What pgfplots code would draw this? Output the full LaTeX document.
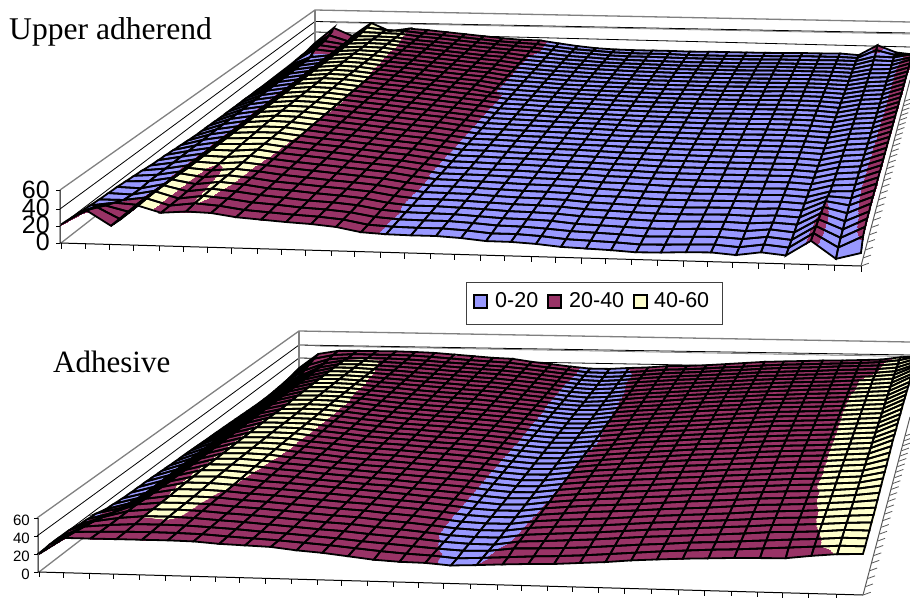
\documentclass[border=0pt]{standalone}
\usepackage{fontspec}
\setmainfont{Liberation Serif}
\setsansfont{Liberation Sans}
\usepackage{pgfplots}
\usepackage{pgfplotstable}
\pgfplotsset{compat=1.18}
\definecolor{cb}{RGB}{153,153,255}
\definecolor{cp}{RGB}{153,51,102}
\definecolor{cy}{RGB}{255,255,204}
\definecolor{gw}{RGB}{128,128,128}
\pgfplotsset{
 page/.style={at={(0pt,0pt)},anchor=south west,scale only axis,width=910pt,height=597pt,xmin=0,xmax=910,ymin=0,ymax=597,y dir=reverse,hide axis},
 sheet/.style={page,view={0}{90},zmin=-1,zmax=1,point meta min=0,point meta max=60,
  colormap={bands}{color(0pt)=(cb) color(19.95pt)=(cb) color(20pt)=(cp) color(39.95pt)=(cp) color(40pt)=(cy) color(60pt)=(cy)},
  colormap={blk}{color(0pt)=(black) color(1pt)=(black)}},
 table/z index=0,
}
\pgfplotstableread[row sep=\\]{z\\
9\\37\\23\\47\\33\\38\\36\\33\\30\\27\\24\\22\\21.5\\17\\13\\10\\8.5\\8\\8\\8\\7.5\\8\\8\\8\\8\\8.5\\9\\9\\9.5\\7.5\\24\\13\\10\\
7\\30\\20\\45\\41\\39.8\\36.5\\34\\31\\28\\25\\23\\21.5\\17.5\\14\\12\\10\\9\\9\\9\\8\\8\\8\\8.5\\9\\9\\10\\10\\10\\9\\22\\15\\16\\
5\\26\\21\\43\\42\\41\\37\\34.5\\31.5\\28.5\\26\\23.5\\21.5\\18\\15\\13\\11\\10\\10\\9.5\\9\\9\\9\\9\\9.5\\10\\10\\10\\10.5\\10\\18\\17\\23\\
5\\25\\21\\42\\42\\41\\37\\34.5\\31.5\\28.5\\26\\23.5\\21.5\\18\\15\\13.5\\11.5\\10.5\\10\\9.5\\9\\9\\9\\9\\9.5\\10\\10\\10\\10.5\\10\\18\\17\\24\\
4\\24\\21\\41.5\\43\\41.5\\37.5\\35\\32\\29\\26\\24\\20.2\\18\\15.5\\14\\12\\11\\10.5\\10\\9.5\\9.5\\9.5\\9.5\\10\\10.5\\10.5\\10.5\\11\\10\\17\\17\\26\\
3\\17\\21\\41.5\\43\\42\\38\\35\\32\\29\\26\\24\\20.2\\18\\16\\14\\13\\12\\11\\10.5\\10\\10\\10\\10\\10.5\\11\\11\\11\\11\\10\\16\\17\\26\\
3\\16\\21\\41.5\\43\\42\\38\\35.5\\32.5\\29.5\\26.5\\24\\20.2\\18\\16\\15\\13.5\\12.5\\11.5\\11\\10.5\\10.5\\10.5\\10.5\\10.5\\11\\11\\11.5\\11\\10\\16\\17\\26\\
3\\16\\21\\41.5\\43.5\\42\\38.2\\35.5\\32.5\\29.5\\26.5\\24\\20.2\\18\\16\\15\\13.5\\12.5\\11.5\\11\\10.5\\10.5\\10.5\\10.5\\10.5\\11\\11.5\\11.5\\11\\10\\15.5\\17\\26\\
3\\16\\21\\41.5\\44\\42\\38.5\\35.5\\32.5\\29.5\\26.5\\24\\20.2\\18.5\\16.5\\15\\14\\13\\12\\11\\11\\10.5\\10.5\\10.5\\11\\11\\11.5\\11.5\\11\\10\\15\\17\\26\\
3\\16\\21\\41.5\\44\\42\\38.7\\36\\33\\30\\27\\24.5\\20.2\\18.5\\16.5\\15\\14\\13\\12\\11.5\\11\\11\\10.5\\10.5\\11\\11\\11.5\\12\\11.5\\10\\15\\17\\26\\
3\\16\\21\\41.5\\44\\42.3\\38.8\\36\\33\\30\\27\\24.5\\20.2\\18.5\\17\\15\\14\\13\\12.5\\11.5\\11\\11\\11\\10.5\\11\\11\\12\\12\\11.5\\10\\15\\17\\26\\
3.5\\16\\21\\41.5\\44\\42.5\\39\\36\\33\\30\\27\\24.5\\20.2\\18.5\\17\\15.5\\14\\13.5\\12.5\\12\\11\\11\\11\\11\\11\\11\\12\\12\\11.5\\10\\15\\17\\26\\
3.5\\16\\21\\41.5\\44\\42.5\\39.3\\36.5\\33.5\\30.5\\27.5\\25\\20.2\\18.5\\17\\15.5\\14.5\\13.5\\13\\12\\11.5\\11\\11\\11\\11\\11.5\\12\\12\\11.5\\10\\15\\17\\26\\
4\\16\\21\\41.5\\44\\43\\39.5\\36.5\\33.5\\30.5\\27.5\\25\\20.2\\18.5\\17\\16\\14.5\\14\\13\\12\\11.5\\11.5\\11\\11\\11.5\\11.5\\12\\12\\11.5\\9.5\\15\\17\\26\\
4\\16\\21\\41.5\\44\\43\\39.7\\36.5\\34\\31\\28\\25\\22\\18.5\\17.5\\16\\15\\14\\13\\12.5\\12\\11.5\\11\\11\\11.5\\11.5\\12\\12\\11.5\\9.5\\15\\17\\26\\
4.2\\16\\21\\41.5\\44\\43\\39.7\\36.5\\34\\31\\28\\25\\22\\18.5\\17.5\\16\\15\\14\\13.2\\12.5\\12\\11.5\\11.2\\11\\11.5\\11.5\\12\\12\\11.5\\9.5\\15\\17\\26\\
4.5\\16\\21\\41.5\\44\\43\\39.8\\36.5\\34\\31\\28\\25\\22\\18.5\\17.5\\16\\15\\14\\13.5\\12.5\\12\\11.5\\11.5\\11\\11.5\\11.5\\12\\12\\11.5\\9.5\\15\\17\\26\\
4.5\\16\\21\\41.5\\44\\43\\39.9\\37\\34\\31\\28\\25\\22\\18.5\\17.5\\16.5\\15\\14.5\\13.5\\13\\12\\12\\11.5\\11\\11.5\\11.5\\12\\12\\11\\9.5\\15\\17\\26\\
5\\16\\21\\41.5\\44\\43\\40\\37\\34\\31\\28\\25\\22\\18.5\\17.5\\16.5\\15.5\\14.5\\14\\13\\12\\12\\11.5\\11\\11\\11.5\\11.5\\11.5\\11\\9.5\\15\\17\\26\\
5.5\\16\\21\\41.5\\44\\43\\40.2\\37\\34\\31\\28\\25.5\\22\\18.5\\17.5\\16.5\\15.5\\15\\14\\13\\12\\12\\11.5\\11\\11\\11\\11.5\\11.5\\11\\9.5\\15\\17\\26\\
5.7\\16\\21\\41.5\\44\\43\\40.2\\37\\34\\31\\28\\25.5\\22\\18.5\\17.5\\16.5\\15.7\\15\\14\\13\\12.2\\12\\11.5\\11\\11\\11\\11.2\\11.2\\11\\9.5\\15\\17\\26\\
6\\16\\21\\41.5\\44\\43\\40.1\\37\\34\\31\\28\\25.5\\22\\18.5\\17.5\\16.5\\16\\15\\14\\13\\12.5\\12\\11.5\\11\\11\\11\\11\\11\\11\\9.5\\15\\17\\26\\
7\\16\\21\\41.5\\44\\43\\40\\37\\34\\31\\28\\25.5\\22\\18.5\\18\\17\\16\\15\\14\\13.5\\12.5\\12\\11.5\\11\\11\\11\\11\\11\\11\\9.5\\15\\17\\26\\
8\\16\\21\\41.5\\44\\43\\39.9\\37\\34\\31\\28\\25.5\\22\\18.5\\18\\17\\16\\15\\14.5\\13.5\\12.5\\12\\11.5\\11\\10.5\\10.5\\10.5\\11\\10.5\\9\\15\\17\\26\\
9\\16\\21\\41.5\\43.5\\43\\39.7\\36.5\\34\\31\\28\\25.5\\22\\18.5\\18\\17\\16\\15.5\\14.5\\13.5\\12.5\\12\\11\\11\\10.5\\10.5\\10.5\\10.5\\10.5\\9\\15\\17\\26\\
10\\16\\21\\41.5\\43\\43\\39.5\\36.5\\34\\31\\28\\25.5\\22\\18.5\\18\\17\\16.5\\15.5\\14.5\\13.5\\12.5\\12\\11\\10.5\\10.5\\10.5\\10.5\\10.5\\10.5\\9\\15\\17\\26\\
10.7\\16\\21\\41.5\\42.5\\43\\39.4\\36.5\\34\\31\\28\\25.5\\22\\18.5\\18\\17\\16.5\\15.5\\14.5\\13.7\\12.5\\12\\11\\10.5\\10.3\\10.3\\10.3\\10.5\\10.5\\9\\15\\17\\26\\
11.5\\16\\21\\41.5\\42\\43\\39.3\\36.5\\34\\31\\28\\25.5\\22\\18.5\\18\\17\\16.5\\15.5\\14.5\\14\\12.5\\12\\11\\10.5\\10\\10\\10\\10.5\\10.5\\9\\15\\17\\26\\
13\\16\\21\\41.5\\41\\43\\39.2\\36.5\\34\\31\\28.5\\26\\22\\18.5\\18\\17.5\\16.5\\15.5\\15\\14\\12.5\\12\\11\\10\\10\\10\\10\\10\\10.5\\9\\15.5\\17\\26\\
14\\16\\21\\41.5\\40.5\\42.5\\39.1\\36\\33.5\\31\\28.5\\26\\22\\19\\18.5\\17.5\\16.5\\15.5\\15\\14\\12.5\\11.5\\10.5\\10\\9.5\\10\\10\\10\\10.5\\9\\16\\17\\26\\
15\\16\\21\\41.5\\40\\42\\39\\36\\33.5\\31\\28.5\\26\\22\\19\\18.5\\17.5\\16.5\\15.5\\15\\14\\12\\11.5\\10.5\\9.5\\9.5\\9.5\\10\\10\\10.5\\9\\18\\16.5\\26\\
16\\15\\21\\41.5\\39\\41.5\\39\\35.5\\33\\30.5\\28.5\\26\\22\\19\\18.5\\18\\16.5\\15.5\\15\\14\\12\\11\\10\\9.5\\9\\9.5\\10\\9.5\\10.5\\9\\20\\16\\26\\
16.5\\15.5\\21\\42.5\\38.5\\41.4\\38.9\\35.2\\33\\30.5\\28.5\\26\\21.7\\19\\18.8\\18\\16.7\\15.5\\15\\14\\12\\11\\10\\9.2\\9\\9.5\\10\\9.2\\10.5\\9\\21\\15\\26\\
17\\17\\21\\43\\38\\41.3\\38.8\\35\\33\\30.5\\28.5\\26\\21.5\\19\\19\\18\\17\\15.5\\15\\14\\12\\11\\10\\9\\9\\9.5\\10\\9\\10.5\\9\\22\\14\\25\\
18\\22\\20\\44\\37.5\\41\\38.5\\35\\32.5\\30\\28.5\\26\\21.5\\19.5\\19\\18.5\\17\\15.5\\15\\14\\11.5\\10.5\\9.5\\8.5\\8.5\\9.5\\10\\8.5\\11\\8.5\\23\\13\\25\\
19\\27\\20\\45\\37\\40.7\\38.2\\34.5\\32.5\\30\\28.5\\26\\21.5\\19.5\\19\\19\\17.5\\15.5\\15\\13.5\\11.5\\10.5\\9.5\\8\\8.5\\9\\9.5\\8\\11\\8.5\\23.5\\12\\24\\
20\\34\\20\\45\\37\\40.2\\38\\34\\32\\30\\28.5\\26\\21\\19.5\\19\\19\\17.5\\15\\15\\13.5\\11\\10\\9\\7.5\\8\\9\\9.5\\7.5\\11\\8.5\\24\\10\\22\\
21\\38\\21\\45\\37\\39\\38\\34\\32\\30\\28.5\\26\\21\\19.5\\19\\19\\17.5\\15\\14.8\\13.4\\11\\10\\9\\7.5\\8\\9\\9.5\\7.5\\11\\8.5\\24\\6.5\\13\\
}\zA
\pgfplotstableread[row sep=\\]{z\\
12\\34\\39\\39.5\\39.5\\39.5\\39\\38\\36\\34\\32\\31\\27\\24\\21\\18.5\\18.5\\20.3\\21.5\\24\\24.5\\26\\28\\30\\32\\33\\34\\35\\35.5\\36.5\\37.5\\41\\43\\
10\\32\\38\\39.8\\39.6\\39.5\\39\\37.5\\35.5\\33.5\\32\\30.5\\27.5\\24.5\\21.5\\18.5\\18\\19.5\\21.5\\24\\25\\26.5\\28.5\\30\\32\\33.5\\34.5\\35.5\\36.5\\37.5\\39\\42\\48\\
8\\28\\37\\39.5\\39.6\\39.5\\38.5\\37\\35\\33.5\\31.5\\30\\27.5\\24.5\\21.5\\18.5\\17.5\\19\\21.5\\24\\25.5\\27\\29\\30.5\\32.5\\34\\35\\36\\37.5\\38.5\\39.5\\42\\50\\
7\\25\\36\\40.8\\40.8\\39.7\\38.5\\37\\35\\33.2\\31.5\\30\\27.5\\24.5\\21.5\\18.2\\17.2\\18.9\\21.7\\24\\25.7\\27.2\\29\\30.7\\32.7\\34\\35.2\\36.2\\37.7\\38.7\\39.7\\42.2\\51\\
6\\22\\35.5\\41\\41\\39.8\\38.5\\37\\35\\33\\31.5\\30\\27.5\\24.5\\21.5\\18\\17\\18.8\\21.8\\24\\26\\27.5\\29\\31\\33\\34\\35.5\\36.5\\38\\39\\40\\42.5\\52\\
5\\21\\35\\41.5\\41.5\\40\\38.5\\36.5\\34.5\\33\\31\\29.5\\27\\24.5\\21.5\\18\\16.5\\18.2\\21.5\\24\\26\\27.5\\29.5\\31\\33\\34.5\\35.5\\37\\38\\39.3\\40.5\\43\\54\\
4.5\\20.5\\34.5\\41.5\\41.7\\40.3\\38.5\\36.5\\34.5\\33\\31\\29.5\\27\\24\\21.5\\18\\16.5\\17.8\\21\\23.5\\25.5\\27.5\\29.5\\31\\33\\34.5\\36\\37\\38\\39.6\\41\\43\\55\\
4.5\\20.5\\34.5\\41.5\\41.8\\40.4\\38.5\\36.5\\34.5\\32.7\\30.7\\29.2\\27\\24\\21.5\\18\\16.2\\17.7\\20.9\\23.5\\25.5\\27.5\\29.5\\31.2\\33\\34.5\\36\\37.2\\38.2\\39.6\\41\\43\\55\\
4.5\\20.5\\34.5\\41.5\\42\\40.5\\38.5\\36.5\\34.5\\32.5\\30.5\\29\\27\\24\\21.5\\18\\16\\17.5\\20.8\\23.5\\25.5\\27.5\\29.5\\31.5\\33\\34.5\\36\\37.5\\38.5\\39.6\\41\\43\\56\\
5\\20.5\\34.5\\41.5\\42\\41\\38.5\\36.5\\34\\32\\30.5\\29\\26.5\\24\\21.5\\18\\16.5\\17.5\\20.6\\23\\25\\27.5\\29.5\\31.5\\33\\35\\36\\37.5\\38.5\\39.7\\41.5\\43\\55\\
5.5\\20.5\\34.5\\41.5\\42\\41\\38.5\\36.2\\34\\32\\30.2\\28.7\\26.5\\24\\21.5\\18.2\\16.5\\17.2\\20.5\\23\\25\\27.2\\29.5\\31.5\\33\\35\\36.2\\37.5\\38.5\\39.7\\41.5\\43\\55\\
6\\20.5\\34.5\\41.5\\42\\41\\38.6\\36\\34\\32\\30\\28.5\\26.5\\24\\21.5\\18.5\\16.5\\17\\20.5\\23\\25\\27\\29.5\\31.5\\33\\35\\36.5\\37.5\\38.5\\39.8\\41.5\\43\\55\\
6.5\\20.5\\34.5\\41.5\\42\\41.2\\38.8\\36\\33.5\\31.5\\30\\28\\26\\24\\21.5\\18.5\\16.5\\17\\20.3\\23\\25\\27\\29.5\\31.5\\33\\35\\36.5\\37.5\\38.5\\39.8\\41.5\\43\\55\\
7\\20.5\\34.5\\41.5\\42\\41.4\\39\\36\\33.5\\31.5\\29.5\\28\\26\\24\\21.5\\18.5\\16.5\\17\\20.2\\22.5\\25\\27\\29\\31\\33\\35\\36.5\\37.5\\38.5\\39.8\\41.5\\43\\55\\
7.5\\20.5\\34.5\\41\\42\\41.5\\39\\36\\33.5\\31.5\\29.5\\28\\26\\24\\21.5\\18.5\\16.5\\17\\20\\22.5\\25\\27\\29\\31\\33\\34.5\\36.5\\37.5\\38.5\\39.8\\41.5\\43\\55\\
7.8\\20.5\\34.5\\41\\42\\41.5\\39\\36\\33.5\\31.2\\29.5\\28\\26\\24\\21.5\\18.5\\16.5\\17\\19.8\\22.4\\25\\27\\29\\31\\33\\34.5\\36.5\\37.5\\38.5\\39.8\\41.5\\43\\54.5\\
8\\20.5\\34.5\\41.5\\42\\41.5\\39\\36\\33.5\\31\\29.5\\28\\26\\24\\21.5\\18.5\\16.5\\17\\19.7\\22.3\\25\\27\\29\\31\\33\\34.5\\36.5\\37.5\\38.5\\39.8\\41.5\\43\\54\\
8.5\\20.5\\34.5\\42\\42\\41.5\\38.9\\36\\33.5\\31\\29.5\\27.5\\26\\24\\21.5\\18.5\\16.5\\17\\19.5\\22\\25\\27\\29\\31\\32.5\\34.5\\36\\37.5\\38.5\\39.7\\41.5\\43\\54\\
9\\20.5\\34.5\\42\\42\\41.6\\38.8\\36\\33\\31\\29.5\\27.5\\26\\24\\21.5\\18.5\\16.5\\17\\19.6\\22\\25\\27\\29\\31\\32.5\\34.5\\36\\37.5\\38.5\\39.7\\41.5\\43\\54\\
9.5\\20.5\\34.5\\42\\42.5\\41.7\\38.7\\36\\33\\31\\29.5\\27.5\\26\\24\\21.5\\18.5\\16.5\\17\\19.8\\22.5\\25\\27\\29\\31\\32.5\\34\\36\\37.5\\38.5\\39.7\\41.5\\43\\53\\
9.8\\20.5\\34.5\\42\\42.5\\41.7\\38.5\\36\\33\\31\\29.5\\27.5\\26\\24\\21.5\\18.5\\16.5\\17\\19.8\\22.5\\25\\27\\29\\31\\32.5\\34\\36\\37.5\\38.5\\39.7\\41.5\\43\\53\\
10\\20.5\\34.5\\42\\42.5\\41.7\\38.3\\36\\33\\31\\29.5\\27.5\\26\\24\\21.5\\18.5\\16.5\\17\\19.9\\22.5\\25\\27\\29\\31\\32.5\\34\\36\\37.5\\38.5\\39.7\\41.5\\43\\53\\
10.5\\20.5\\34.5\\42\\42.5\\41.6\\38.4\\36\\33\\31\\29.5\\27.5\\25.5\\24\\21.5\\18.5\\16.5\\17\\20\\23\\25\\27\\29\\31\\32.5\\34\\36\\37.5\\38.7\\39.7\\41.5\\43\\52\\
11\\20.5\\34.5\\42\\42.5\\41.5\\38.3\\36\\33\\31\\29.5\\27.5\\25.5\\23.5\\21.5\\18.5\\16.5\\17\\20.2\\23\\25\\27\\29\\31\\32.5\\34\\35.5\\37\\38.5\\39.6\\41.5\\43\\51\\
11.5\\20.5\\34.5\\42\\42.5\\41.3\\38.2\\36\\33.5\\31\\29.5\\27.5\\25.5\\23.5\\21.5\\18.5\\16.5\\17\\20.2\\23\\25\\27\\29\\30.5\\32\\34\\35.5\\37\\38.5\\39.6\\41.5\\43\\50\\
12\\20.5\\34.5\\42\\42.5\\41\\38\\36\\33.5\\31.5\\29.5\\27.5\\25.5\\23.5\\21.5\\18.5\\16.5\\17\\20.3\\23\\25\\27\\28.5\\30.5\\32\\34\\35.5\\37\\38.5\\39.5\\41.5\\43\\49\\
12.2\\20.5\\34.5\\42\\42.4\\40.8\\37.9\\36\\33.5\\31.5\\29.5\\27.7\\25.5\\23.5\\21.5\\18.5\\16.5\\17\\20.3\\23\\25\\27\\28.5\\30.5\\32\\34\\35.5\\37\\38.5\\39.5\\41.5\\43\\48.5\\
12.5\\20.5\\35\\42\\42.3\\40.5\\37.8\\36\\33.5\\31.5\\29.5\\28\\25.5\\23.5\\21.5\\18.5\\16.5\\17\\20.4\\23\\25\\27\\28.5\\30.5\\32\\34\\35.5\\37\\38.5\\39.6\\41.5\\43\\48\\
13\\20.5\\35\\41.5\\42\\40.1\\37.5\\36\\34\\32\\30\\28\\26\\23.5\\21.5\\18.5\\16.5\\17\\20.5\\23\\25\\26.5\\28.5\\30\\32\\33.5\\35.5\\37\\38.5\\39.4\\41\\43\\47\\
14\\21.5\\35.5\\41.5\\41.5\\39.9\\37.5\\36\\34\\32\\30\\28\\26\\24\\21.5\\18.5\\17\\17.2\\20.6\\23\\25\\26.5\\28\\30\\32\\33.5\\35\\37\\38\\39.3\\41\\43\\46\\
15\\23\\36\\41\\41\\39.8\\37.5\\36\\34\\32\\30\\28.5\\26\\24\\21.5\\18.5\\17\\17.3\\20.8\\23\\25\\26.5\\28\\30\\31.5\\33\\35\\37\\38\\39.2\\40.8\\42.5\\45\\
18\\25\\36.5\\40.4\\40.5\\39.7\\37.5\\36\\34\\32\\30\\28.5\\26\\24\\21.5\\18.5\\17.3\\17.4\\21\\23\\24.5\\26\\28\\30\\31.5\\33\\34.5\\36.5\\38\\39\\40.5\\42.5\\44\\
19\\27\\37.5\\40.3\\40.4\\39.6\\37.5\\36\\34\\32\\30\\28.5\\26\\24\\21.5\\18.7\\17.4\\17.5\\21.2\\23\\24.5\\26\\28\\30\\31.5\\33\\34.5\\36.2\\38\\39\\40.4\\42.2\\43.5\\
20\\30\\37.5\\40.2\\40.4\\39.5\\37.5\\36\\34\\32\\30\\28.5\\26\\24\\21.5\\18.8\\17.5\\17.5\\21.3\\23\\24.5\\26\\28\\30\\31.5\\33\\34.5\\36\\38\\39\\40.3\\42\\43\\
22\\33\\37.5\\40.1\\40.3\\39.3\\37.5\\36\\34\\32\\30\\28.5\\26\\24\\22\\19.5\\18\\17.8\\21.8\\23\\24.5\\26\\28\\30\\31.5\\33\\34.5\\36\\38\\38.8\\40\\42\\42\\
22\\35\\37.5\\39\\39.2\\38.8\\37.5\\36\\34\\32.5\\30.5\\28.5\\26\\24\\22\\20\\18.5\\19\\22.3\\23\\24\\25.5\\27.5\\29.5\\31\\33\\34\\35.5\\37\\38.5\\39.7\\41.5\\41.5\\
22\\37\\38\\38.5\\38.8\\38.5\\37.8\\36\\34.5\\33\\31\\29\\26.5\\24\\22\\20.7\\18.4\\19.6\\21\\22.5\\23.5\\25\\27\\29\\31\\32.5\\34\\35\\36.5\\38\\39.5\\41\\41\\
20\\38.5\\38.5\\38.5\\38.5\\38.5\\38\\36\\35\\34\\31\\29\\26\\23\\21.5\\21\\19\\20.1\\21.5\\22.6\\23.3\\25\\26.6\\29\\30.6\\32\\33\\34\\34.5\\35\\38\\40.3\\41\\
}\zB
\pgfplotstablecreatecol[create col/expr={\pgfplotstablerow-33*floor((\pgfplotstablerow+0.5)/33)}]{I}\zA
\pgfplotstablecreatecol[create col/expr={(37-floor((\pgfplotstablerow+0.5)/33))/(25.16+0.32*(37-floor((\pgfplotstablerow+0.5)/33)))}]{P}\zA
\pgfplotstablecreatecol[create col/expr={(61+25*\thisrow{I})*(1-\thisrow{P})+(315+18.75*\thisrow{I})*\thisrow{P}}]{X}\zA
\pgfplotstablecreatecol[create col/expr={(243+0.72*\thisrow{I})*(1-\thisrow{P})+(48+0.406*\thisrow{I})*\thisrow{P}-(0.88+0.00375*\thisrow{I})*(1-0.375*\thisrow{P})*\thisrow{z}}]{Y}\zA
\pgfplotstablecreatecol[create col/expr={\pgfplotstablerow-33*floor((\pgfplotstablerow+0.5)/33)}]{I}\zB
\pgfplotstablecreatecol[create col/expr={(37-floor((\pgfplotstablerow+0.5)/33))/(25.16+0.32*(37-floor((\pgfplotstablerow+0.5)/33)))}]{P}\zB
\pgfplotstablecreatecol[create col/expr={(39+25.75*\thisrow{I})*(1-\thisrow{P})+(299+19.4*\thisrow{I})*\thisrow{P}}]{X}\zB
\pgfplotstablecreatecol[create col/expr={(572+0.72*\thisrow{I})*(1-\thisrow{P})+(376+0.36*\thisrow{I})*\thisrow{P}-(0.9+0.003125*\thisrow{I})*(1-0.27*\thisrow{P})*\thisrow{z}}]{Y}\zB
\begin{document}
\begin{tikzpicture}
\path[use as bounding box] (0pt,0pt) rectangle (910pt,597pt);
\begin{axis}[page]
% upper chart: walls
\addplot[gw,line width=1.3pt] coordinates {(60,190)(315,10)(910,22)};
\addplot[black,line width=0.8pt] coordinates {(60,209)(315,21.5)(910,33)};
\addplot[gw,line width=0.8pt] coordinates {(330,22.5)(910,34)};
\addplot[black,line width=0.8pt] coordinates {(60,226)(315,32)(910,47)};
\addplot[gw,line width=1.3pt] coordinates {(61,243)(315,45)};
\addplot[gw,line width=1.3pt] coordinates {(315,10)(315,45)};
\addplot[black,line width=1pt] coordinates {(60,190)(60,243)(861,266)};
\addplot[gw!70!black,line width=1pt] coordinates {(861,266)(910,80)};
\addplot[black,line width=0.8pt] coordinates {(56,190)(60,190)};
\addplot[black,line width=0.8pt] coordinates {(56,209)(60,209)};
\addplot[black,line width=0.8pt] coordinates {(56,226)(60,226)};
\addplot[black,line width=0.8pt] coordinates {(56,243)(60,243)};
\addplot[only marks,mark=|,mark size=2.8pt,mark options={black,line width=0.8pt}] coordinates {(61,245.8)(85,246.5)(109,247.2)(133,247.9)(159,248.6)(183,249.3)(207,250)(231,250.7)(257,251.4)(281,252.1)(305,252.8)(331,253.6)(354,254.3)(380,255)(404,255.7)(430,256.4)(454,257.1)(480,257.9)(504,258.6)(531,259.3)(555,260)(581,260.7)(605,261.4)(631,262.2)(657,262.9)(683,263.7)(707,264.4)(732,265.1)(758,265.9)(784,266.6)(808,267.3)(834,268)(861,268.8)};
\addplot[only marks,mark=-,mark size=4pt,mark options={gw!70!black,line width=0.8pt,rotate=20}] coordinates {(865,264.6)(867.1,256.5)(869.2,248.6)(871.2,240.9)(873.2,233.4)(875.1,226.1)(877,218.9)(878.8,212)(880.6,205.2)(882.3,198.5)(884,192)(885.7,185.6)(887.3,179.4)(888.9,173.3)(890.5,167.3)(892,161.5)(893.5,155.7)(895,150.2)(896.4,144.7)(897.8,139.3)(899.2,134.1)(900.6,128.9)(901.9,123.9)(903.2,118.9)(904.5,114.1)(905.7,109.3)(906.9,104.6)(908.1,100)};
% lower chart: walls
\addplot[gw,line width=1.3pt] coordinates {(37,518)(299,331)(910,342)};
\addplot[black,line width=0.8pt] coordinates {(37,536)(299,345)(910,355)};
\addplot[gw,line width=0.8pt] coordinates {(315,346)(910,356.5)};
\addplot[black,line width=0.8pt] coordinates {(37,554)(299,358)(910,369)};
\addplot[gw,line width=1.3pt] coordinates {(39,572)(299,372)};
\addplot[gw,line width=1.3pt] coordinates {(299,331)(299,372)};
\addplot[black,line width=1pt] coordinates {(38,518)(38,572)(863,595)};
\addplot[gw!70!black,line width=1pt] coordinates {(863,595)(910,417)};
\addplot[black,line width=0.8pt] coordinates {(34,518)(38,518)};
\addplot[black,line width=0.8pt] coordinates {(34,536)(38,536)};
\addplot[black,line width=0.8pt] coordinates {(34,554)(38,554)};
\addplot[black,line width=0.8pt] coordinates {(34,572)(38,572)};
\addplot[only marks,mark=|,mark size=2.6pt,mark options={black,line width=0.8pt}] coordinates {(39,574.6)(63,575.3)(89,576)(113,576.7)(139,577.4)(165,578.1)(190,578.8)(215,579.5)(239,580.2)(265,580.9)(291,581.7)(317,582.4)(341,583.1)(367,583.8)(393,584.5)(418,585.2)(443,585.9)(470,586.6)(497,587.4)(521,588.1)(547,588.8)(572,589.5)(598,590.2)(624,590.9)(651,591.7)(678,592.4)(704,593.1)(731,593.8)(757,594.6)(782,595.3)(808,596)(836,596.7)(863,597.4)};
\addplot[only marks,mark=-,mark size=4pt,mark options={gw!70!black,line width=0.8pt,rotate=20}] coordinates {(867,593.6)(869.2,585.3)(871.3,577.2)(873.4,569.4)(875.5,561.7)(877.5,554.2)(879.4,546.8)(881.3,539.7)(883.2,532.7)(885,525.9)(886.7,519.2)(888.5,512.7)(890.2,506.3)(891.8,500)(893.4,494)(895,488)(896.6,482.1)(898.1,476.4)(899.6,470.8)(901.1,465.3)(902.5,459.9)(903.9,454.6)(905.3,449.4)(906.6,444.4)(907.9,439.4)(909.2,434.5)};
% legend
\addplot[black!75,line width=1pt] coordinates {(466,282)(722,282)(722,324)(466,324)(466,282)};
\addplot[draw=black,fill=cb,line width=1.4pt] coordinates {(474,295)(487,295)(487,308)(474,308)} -- cycle;
\addplot[draw=black,fill=cp,line width=1.4pt] coordinates {(548,295)(561,295)(561,308)(548,308)} -- cycle;
\addplot[draw=black,fill=cy,line width=1.4pt] coordinates {(634,295)(647,295)(647,308)(634,308)} -- cycle;
\node[anchor=base west,inner sep=0pt,font=\fontsize{21.5}{22}\sffamily] at (axis cs:495,307) {0-20};
\node[anchor=base west,inner sep=0pt,font=\fontsize{21.5}{22}\sffamily] at (axis cs:569,307) {20-40};
\node[anchor=base west,inner sep=0pt,font=\fontsize{21.5}{22}\sffamily] at (axis cs:654,307) {40-60};
% text
\node[anchor=base west,inner sep=0pt,font=\fontsize{31.6}{32}\rmfamily] at (axis cs:9,39) {Upper adherend};
\node[anchor=base west,inner sep=0pt,font=\fontsize{31}{32}\rmfamily] at (axis cs:53,372) {Adhesive};
\node[anchor=east,inner sep=0pt,font=\fontsize{25}{25}\sffamily] at (axis cs:50,190) {60};
\node[anchor=east,inner sep=0pt,font=\fontsize{25}{25}\sffamily] at (axis cs:50,208) {40};
\node[anchor=east,inner sep=0pt,font=\fontsize{25}{25}\sffamily] at (axis cs:50,225) {20};
\node[anchor=east,inner sep=0pt,font=\fontsize{25}{25}\sffamily] at (axis cs:50,242) {0};
\node[anchor=east,inner sep=0pt,font=\fontsize{15}{15}\sffamily] at (axis cs:30,520) {60};
\node[anchor=east,inner sep=0pt,font=\fontsize{15}{15}\sffamily] at (axis cs:30,538) {40};
\node[anchor=east,inner sep=0pt,font=\fontsize{15}{15}\sffamily] at (axis cs:30,556) {20};
\node[anchor=east,inner sep=0pt,font=\fontsize{15}{15}\sffamily] at (axis cs:30,574) {0};
\end{axis}
\begin{axis}[sheet]
\addplot3[surf,shader=interp,colormap name=bands,mesh/cols=33,mesh/rows=38,point meta=\thisrow{z}] table[x=X,y=Y,z expr=0] {\zA};
\addplot3[mesh,colormap name=blk,line width=1.8pt,line cap=round,mesh/cols=33,mesh/rows=38,point meta=\thisrow{z}] table[x=X,y=Y,z expr=0] {\zA};
\end{axis}
\begin{axis}[sheet]
\addplot3[surf,shader=interp,colormap name=bands,mesh/cols=33,mesh/rows=38,point meta=\thisrow{z}] table[x=X,y=Y,z expr=0] {\zB};
\addplot3[mesh,colormap name=blk,line width=1.8pt,line cap=round,mesh/cols=33,mesh/rows=38,point meta=\thisrow{z}] table[x=X,y=Y,z expr=0] {\zB};
\end{axis}
\end{tikzpicture}
\end{document}
